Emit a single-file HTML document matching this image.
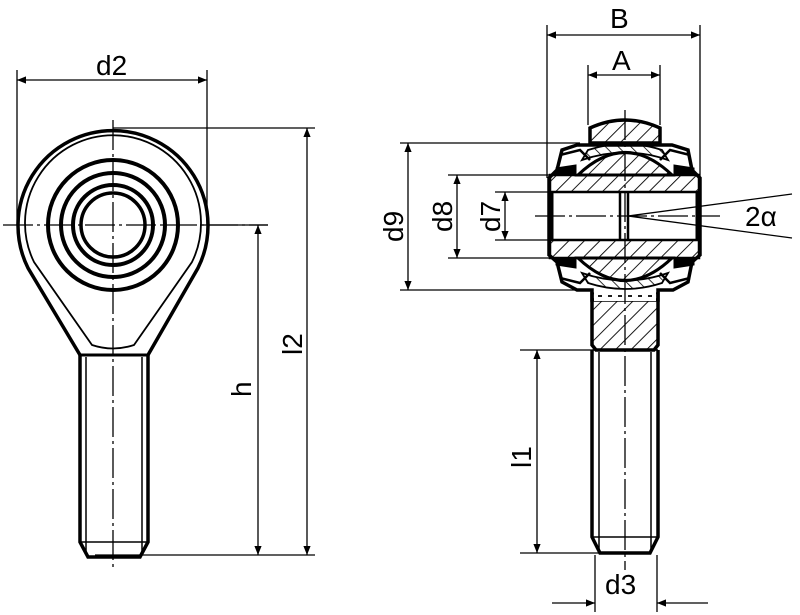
<!DOCTYPE html>
<html><head><meta charset="utf-8"><style>
html,body{margin:0;padding:0;background:#fff}
svg{display:block}
text{font-family:"Liberation Sans",sans-serif;font-size:28px;fill:#000}
</style></head><body>
<svg width="800" height="615" viewBox="0 0 800 615" xmlns="http://www.w3.org/2000/svg">
<defs>
<marker id="a" viewBox="0 0 10 10" refX="10" refY="5" markerWidth="18" markerHeight="9" markerUnits="userSpaceOnUse" orient="auto-start-reverse"><path d="M0,1 L10,5 L0,9z" fill="#000"/></marker>
<pattern id="h" width="11" height="11" patternUnits="userSpaceOnUse" patternTransform="rotate(45)"><line x1="0" y1="0" x2="0" y2="11" stroke="#000" stroke-width="1.8"/></pattern>
<pattern id="h2" width="9" height="9" patternUnits="userSpaceOnUse" patternTransform="rotate(-45)"><line x1="0" y1="0" x2="0" y2="9" stroke="#000" stroke-width="1.6"/></pattern>
</defs>
<g fill="none" stroke="#000">
<!-- LEFT VIEW -->
<path d="M80,355 L28,268 A95,95 0 1 1 198,268 L148,355" stroke-width="3.5"/>
<path d="M92,345 Q113,352 134,345 L192,262 A88,88 0 1 0 34,262 Z" stroke-width="1.8"/>
<circle cx="113" cy="225" r="65" stroke-width="4"/>
<circle cx="113" cy="225" r="52" stroke-width="4"/>
<circle cx="113" cy="225" r="40" stroke-width="4"/>
<circle cx="113" cy="225" r="32" stroke-width="3.5"/>
<path d="M80,355 L148,355" stroke-width="3"/>
<path d="M80,355 L80,542 L88,557 L140,557 L148,542 L148,355" stroke-width="3.5"/>
<path d="M86,357 L86,555 M142,357 L142,555 M80,542 L148,542" stroke-width="1.5"/>
<path d="M3,225 L268,225" stroke-width="1.3" stroke-dasharray="30,4,3,4"/>
<path d="M113,120 L113,570" stroke-width="1.3" stroke-dasharray="30,4,3,4"/>
<path d="M17,70 L17,225 M207,70 L207,225" stroke-width="1.3"/>
<path d="M17,80 L207,80" stroke-width="1.3" marker-start="url(#a)" marker-end="url(#a)"/>
<path d="M113,128 L315,128 M95,555 L315,555 M200,225 L268,225" stroke-width="1.3"/>
<path d="M307,128 L307,555" stroke-width="1.3" marker-start="url(#a)" marker-end="url(#a)"/>
<path d="M258,225 L258,555" stroke-width="1.3" marker-start="url(#a)" marker-end="url(#a)"/>

<!-- RIGHT VIEW -->
<path d="M547,25 L547,178 M700,25 L700,178 M588,65 L588,125 M660,65 L660,125" stroke-width="1.3"/>
<path d="M547,35 L700,35" stroke-width="1.3" marker-start="url(#a)" marker-end="url(#a)"/>
<path d="M588,75 L660,75" stroke-width="1.3" marker-start="url(#a)" marker-end="url(#a)"/>
<path d="M400,143 L580,143 M400,290 L590,290 M448,175 L550,175 M448,258 L550,258 M495,192 L550,192 M495,240 L550,240" stroke-width="1.3"/>
<path d="M408,143 L408,290" stroke-width="1.3" marker-start="url(#a)" marker-end="url(#a)"/>
<path d="M457,175 L457,258" stroke-width="1.3" marker-start="url(#a)" marker-end="url(#a)"/>
<path d="M505,192 L505,240" stroke-width="1.3" marker-start="url(#a)" marker-end="url(#a)"/>
<path d="M590,143 L590,128 Q625,112 660,128 L660,143 Z" fill="url(#h)" stroke-width="3.5"/>
<path d="M577,145 L562,150 L557,170 L549,178 L549,255 L557,262 L562,282 L577,290 L592,290 L592,300 L658,300 L658,290 L673,290 L688,282 L692,262 L700,255 L700,178 L692,170 L688,150 L672,145 Z" stroke-width="3.5"/>
<rect x="550" y="175" width="149" height="17" fill="url(#h)" stroke-width="2.5"/>
<rect x="550" y="240" width="149" height="18" fill="url(#h)" stroke-width="2.5"/>
<path d="M552,192 L552,240 M697,192 L697,240" stroke-width="3"/>
<path d="M578,175 Q625,130 672,175 Z" fill="url(#h)" stroke-width="3"/>
<path d="M578,258 Q625,303 672,258 Z" fill="url(#h)" stroke-width="3"/>
<path d="M588,150 Q625,138 662,150 L668,160 Q625,145 582,160 Z" fill="url(#h2)" stroke-width="1.8"/>
<path d="M588,283 Q625,295 662,283 L668,273 Q625,288 582,273 Z" fill="url(#h2)" stroke-width="1.8"/>
<path d="M556,168 L576,165 L576,175 L556,175 Z M674,165 L694,168 L694,175 L674,175 Z M556,258 L576,258 L576,268 L556,265 Z M674,258 L694,258 L694,265 L674,268 Z" fill="#000" stroke-width="1"/>
<path d="M560,155 L580,150 L590,160 M690,155 L670,150 L660,160 M560,278 L580,283 L590,273 M690,278 L670,283 L660,273" stroke-width="2.5"/>
<path d="M592,292 L592,345 L596,350 L654,350 L658,345 L658,292" fill="url(#h)" stroke-width="3.5"/>
<rect x="594" y="291" width="62" height="10" fill="#fff" stroke="none"/>
<path d="M598,296 L652,296" stroke-width="1.8" stroke-dasharray="4,6"/>
<path d="M592,350 L592,537 L600,553 L650,553 L658,537 L658,350" stroke-width="3.5"/>
<path d="M599,352 L599,550 M651,352 L651,550 M592,537 L658,537 M592,350 L658,350" stroke-width="1.5"/>
<path d="M620,192 L620,240 M628,192 L628,240" stroke-width="2.5"/>
<path d="M625,110 L625,570" stroke-width="1.3" stroke-dasharray="30,4,3,4"/>
<path d="M535,216 L720,216" stroke-width="1.3" stroke-dasharray="30,4,3,4"/>
<path d="M628,216 L792,194 M628,216 L792,238" stroke-width="1.3"/>
<path d="M520,350 L592,350 M520,553 L600,553" stroke-width="1.3"/>
<path d="M537,350 L537,553" stroke-width="1.3" marker-start="url(#a)" marker-end="url(#a)"/>
<path d="M595,555 L595,612 M657,555 L657,612" stroke-width="1.3"/>
<path d="M552,603 L595,603" stroke-width="1.3" marker-end="url(#a)"/>
<path d="M708,603 L657,603" stroke-width="1.3" marker-end="url(#a)"/>
</g>
<text x="96" y="75">d2</text>
<text x="610" y="28">B</text>
<text x="612" y="70">A</text>
<text x="745" y="226">2α</text>
<text x="605" y="594">d3</text>
<text transform="translate(302,355) rotate(-90)">l2</text>
<text transform="translate(251,397) rotate(-90)">h</text>
<text transform="translate(403,242) rotate(-90)">d9</text>
<text transform="translate(452,232) rotate(-90)">d8</text>
<text transform="translate(500,232) rotate(-90)">d7</text>
<text transform="translate(531,468) rotate(-90)">l1</text>
</svg>
</body></html>
